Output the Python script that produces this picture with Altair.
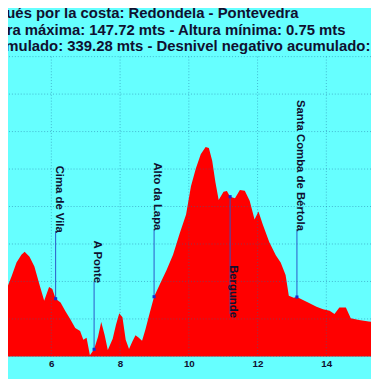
import altair as alt
import pandas as pd

# ---- data ----
km = [4.511, 4.605, 4.702, 4.844, 4.987, 5.129, 5.223, 5.365, 5.507, 5.650,
      5.792, 5.934, 6.028, 6.125, 6.268, 6.410, 6.552, 6.695, 6.837, 6.931,
      7.025, 7.122, 7.244, 7.358, 7.451, 7.549, 7.643, 7.785, 7.879, 7.976,
      8.069, 8.163, 8.260, 8.354, 8.448, 8.545, 8.639, 8.733, 8.875, 8.989,
      9.160, 9.350, 9.541, 9.729, 9.920, 10.062, 10.204, 10.347, 10.489, 10.583,
      10.680, 10.774, 10.868, 11.010, 11.107, 11.201, 11.343, 11.485, 11.628, 11.770,
      11.912, 12.026, 12.149, 12.339, 12.530, 12.672, 12.815, 12.909, 13.051, 13.145,
      13.336, 13.526, 13.714, 13.905, 14.096, 14.238, 14.380, 14.569, 14.711, 14.950,
      15.234, 15.471]
elev = [76.6, 66.3, 47.6, 56.6, 66.3, 71.8, 73.9, 70.4, 63.5, 51.1,
        39.3, 49.0, 47.6, 40.7, 38.0, 31.8, 26.2, 20.0, 17.9, 11.7,
        13.1, 0.75, 5.0, 13.8, 24.2, 15.2, 4.6, 12.4, 22.1, 30.4,
        27.6, 11.7, 5.2, 10.4, 15.0, 13.1, 11.0, 18.6, 31.8, 42.1,
        51.1, 60.7, 71.8, 86.3, 100.1, 120.1, 132.5, 142.7, 147.72, 147.0,
        138.1, 122.9, 110.4, 116.2, 116.7, 112.7, 111.6, 117.4, 116.9, 109.8,
        96.6, 102.2, 93.2, 80.8, 71.3, 66.3, 57.5, 42.8, 41.4, 41.9,
        39.6, 37.3, 35.0, 33.3, 32.2, 29.9, 34.5, 34.5, 26.9, 25.7,
        24.6, 24.2]

wp_names = ["Cima de Vila", "A Ponte", "Alto da Lapa", "Bergunde", "Santa Comba de Bértola"]
wp_km = [6.125, 7.244, 8.989, 11.201, 13.145]
wp_elev = [40.7, 5.0, 42.1, 112.7, 41.9]
wp_label_top = [134.6, 81.7, 136.9, 64.4, 180.9]
wp_label_end = [88.6, 52.9, 89.7, 29.9, 89.7]

x_ticks = [6, 8, 10, 12, 14]
y_grid = [0, 26.44, 52.88, 79.32, 105.76, 132.2, 158.64, 185.08, 211.52]

title_lines = [
    "Camino Portugués por la costa: Redondela - Pontevedra",
    "Altura máxima: 147.72 mts - Altura mínima: 0.75 mts",
    "Desnivel positivo acumulado: 339.28 mts - Desnivel negativo acumulado: 339.28 mts",
]

# ---- styling / layout ----
FONT = "Liberation Sans"
BG = "#66FFFF"
INK = "#101030"
W, H = 371, 371
xs = alt.Scale(domain=[4.739, 15.300], nice=False, zero=False)
ys = alt.Scale(domain=[-13.12, 243.0], nice=False, zero=False)

prof = pd.DataFrame({"km": km, "elev": elev, "base": [0] * len(km)})
wp = pd.DataFrame({"name": wp_names, "km": wp_km, "elev": wp_elev,
                   "top": wp_label_top, "end": wp_label_end})
vg = pd.DataFrame({"t": x_ticks, "top": [y_grid[-1]] * len(x_ticks), "bot": [0] * len(x_ticks)})
hg = pd.DataFrame({"g": y_grid})

area = alt.Chart(prof).mark_area(color="#FF0000", clip=True, interpolate="linear").encode(
    x=alt.X("km:Q", scale=xs, axis=alt.Axis(
        values=x_ticks, offset=-19, domain=False, ticks=False, grid=False, title=None,
        labelFont=FONT, labelFontWeight="bold", labelFontSize=10, labelColor=INK,
        labelPadding=2, labelFlush=False)),
    y=alt.Y("elev:Q", scale=ys, axis=None),
    y2="base:Q",
)

hgrid = alt.Chart(hg).mark_rule(color="#1f6f9f", opacity=0.5, strokeDash=[1, 2], strokeWidth=1).encode(
    y=alt.Y("g:Q", scale=ys, axis=None)
)
vgrid = alt.Chart(vg).mark_rule(color="#1f6f9f", opacity=0.5, strokeDash=[1, 2], strokeWidth=1).encode(
    x=alt.X("t:Q", scale=xs), y=alt.Y("top:Q", scale=ys, axis=None), y2="bot:Q"
)

wline = alt.Chart(wp).mark_rule(color="#2a55c8", strokeWidth=1).encode(
    x=alt.X("km:Q", scale=xs), y=alt.Y("elev:Q", scale=ys, axis=None), y2="end:Q"
)
wdot = alt.Chart(wp).mark_square(color="#1a2ad0", size=10, opacity=1).encode(
    x=alt.X("km:Q", scale=xs), y=alt.Y("elev:Q", scale=ys, axis=None)
)
wtext = alt.Chart(wp).mark_text(angle=90, align="left", baseline="alphabetic", font=FONT,
                                fontSize=11.6, fontWeight="bold", color=INK).encode(
    x=alt.X("km:Q", scale=xs), y=alt.Y("top:Q", scale=ys, axis=None), text="name:N"
)

tdf = pd.DataFrame({"line": title_lines})
t1 = alt.Chart(tdf.iloc[[0]]).mark_text(align="right", baseline="alphabetic", font=FONT,
                                         fontSize=15.2, fontWeight="bold", color=INK).encode(
    x=alt.value(297), y=alt.value(6), text="line:N")
t2 = alt.Chart(tdf.iloc[[1]]).mark_text(align="right", baseline="alphabetic", font=FONT,
                                         fontSize=15.2, fontWeight="bold", color=INK).encode(
    x=alt.value(345), y=alt.value(23), text="line:N")
t3 = alt.Chart(tdf.iloc[[2]]).mark_text(align="left", baseline="alphabetic", font=FONT,
                                         fontSize=15.2, fontWeight="bold", color=INK).encode(
    x=alt.value(-158), y=alt.value(40), text="line:N")

chart = alt.layer(area, hgrid, vgrid, wline, wdot, wtext, t1, t2, t3).properties(
    width=W, height=H, padding=0, background=BG,
    autosize=alt.AutoSizeParams(type="none"),
).configure_view(stroke=None)

chart.save("out.html", embed_options={"renderer": "svg", "actions": False})
